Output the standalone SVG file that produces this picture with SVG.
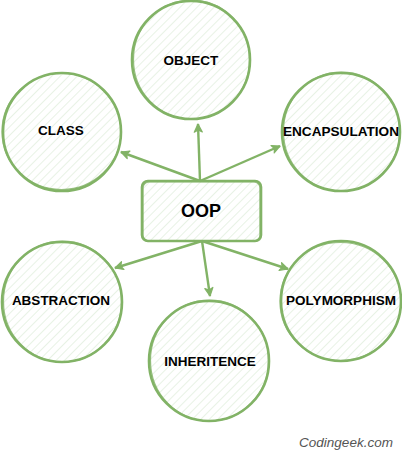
<svg xmlns="http://www.w3.org/2000/svg" width="402" height="452" viewBox="0 0 402 452">
<style>
.node{fill:url(#hatch);stroke:#82b366;stroke-width:2.6}
.sk{fill:none;stroke:#82b366;stroke-width:1.2;opacity:0.8}
.lbl{font-family:"Liberation Sans",Arial,sans-serif;font-weight:bold;font-size:13.5px;fill:#000;text-anchor:middle}
.edge{stroke:#82b366;stroke-width:2.4;fill:none;marker-end:url(#arr)}
</style>
<defs>
<pattern id="hatch" patternUnits="userSpaceOnUse" width="6" height="6" patternTransform="rotate(45)">
<rect width="6" height="6" fill="#ffffff"/>
<line x1="0" y1="0" x2="0" y2="6" stroke="#e1eedd" stroke-width="1.5"/>
</pattern>
<marker id="arr" viewBox="0 0 10 10" refX="9" refY="5" markerWidth="4.2" markerHeight="4.2" orient="auto" markerUnits="strokeWidth">
<path d="M1,1 L9,5 L1,9 L3,5 Z" fill="#82b366" stroke="#82b366" stroke-width="1.2" stroke-linejoin="round"/>
</marker>
</defs>
<rect width="402" height="452" fill="#ffffff"/>
<g id="connectors">
<line class="edge" x1="200" y1="181" x2="198" y2="124"/>
<line class="edge" x1="200" y1="181" x2="121" y2="152"/>
<line class="edge" x1="200" y1="181" x2="280" y2="146"/>
<line class="edge" x1="202" y1="241" x2="115" y2="268"/>
<line class="edge" x1="202" y1="241" x2="210" y2="296"/>
<line class="edge" x1="202" y1="241" x2="288" y2="269"/>
</g>
<g id="object">
<circle class="node" cx="191" cy="60" r="59"/>
<ellipse class="sk" cx="191.5" cy="59.5" rx="58" ry="59.5"/>
<text class="lbl" x="191" y="65">OBJECT</text>
</g>
<g id="class">
<circle class="node" cx="62" cy="132" r="59"/>
<ellipse class="sk" cx="61.5" cy="131.5" rx="59.5" ry="58"/>
<text class="lbl" x="61" y="135">CLASS</text>
</g>
<g id="encapsulation">
<circle class="node" cx="341" cy="132" r="59"/>
<ellipse class="sk" cx="341.5" cy="131.5" rx="58" ry="59.5"/>
<text class="lbl" x="341" y="136" textLength="116" lengthAdjust="spacingAndGlyphs">ENCAPSULATION</text>
</g>
<g id="oop">
<rect x="142" y="181" width="119" height="60" rx="6" fill="url(#hatch)" stroke="#82b366" stroke-width="2.6"/>
<rect x="143" y="182" width="117" height="59" rx="6" class="sk"/>
<text x="201" y="217" font-family="'Liberation Sans',Arial,sans-serif" font-weight="bold" font-size="18px" text-anchor="middle" fill="#000">OOP</text>
</g>
<g id="abstraction">
<circle class="node" cx="62" cy="302" r="60"/>
<ellipse class="sk" cx="62.5" cy="301.5" rx="59" ry="60.5"/>
<text class="lbl" x="61" y="305">ABSTRACTION</text>
</g>
<g id="polymorphism">
<circle class="node" cx="341" cy="301" r="60"/>
<ellipse class="sk" cx="340.5" cy="301.5" rx="60.5" ry="59"/>
<text class="lbl" x="341" y="305">POLYMORPHISM</text>
</g>
<g id="inheritence">
<circle class="node" cx="209" cy="361" r="60"/>
<ellipse class="sk" cx="209.5" cy="360.5" rx="59" ry="60.5"/>
<text class="lbl" x="210" y="366">INHERITENCE</text>
</g>
<text x="346" y="447" font-family="'Liberation Sans',Arial,sans-serif" font-style="italic" font-size="13.5px" text-anchor="middle" fill="#555555">Codingeek.com</text>
</svg>
